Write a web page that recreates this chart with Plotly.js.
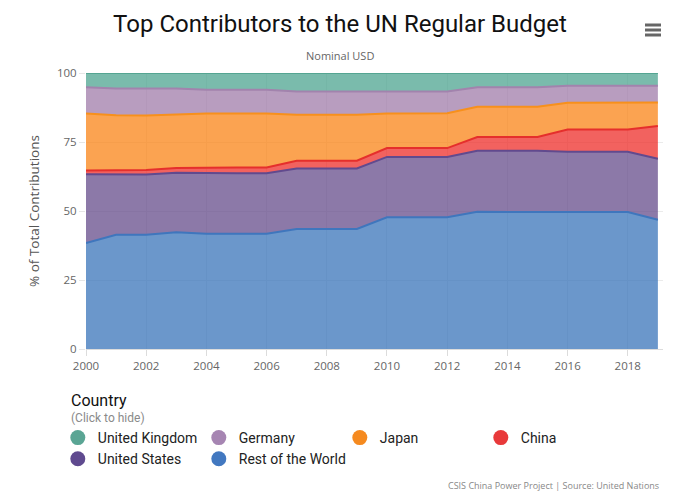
<!DOCTYPE html>
<html>
<head>
<meta charset="utf-8">
<script src="https://cdn.plot.ly/plotly-3.0.1.min.js"></script>
<style>
html,body{margin:0;padding:0;background:#fff;}
#chart{width:680px;height:495px;}
</style>
</head>
<body>
<div id="chart"></div>
<script>
const years = [2000,2001,2002,2003,2004,2005,2006,2007,2008,2009,2010,2011,2012,2013,2014,2015,2016,2017,2018,2019];
const restOfWorld = [38.4,41.4,41.4,42.3,41.8,41.8,41.8,43.5,43.5,43.5,47.7,47.7,47.7,49.7,49.7,49.7,49.5,49.5,49.6,46.8];
const unitedStates = [24.9,21.9,21.8,21.6,21.9,21.9,21.9,21.9,21.9,21.9,21.9,21.9,21.9,22.1,22.1,22.1,22.0,22.0,21.9,22.1];
const china = [1.4,1.6,1.7,1.7,2.1,2.1,2.1,2.8,2.8,2.8,3.2,3.2,3.2,5.0,5.0,5.0,8.0,8.0,8.0,11.9];
const japan = [20.6,19.8,19.7,19.4,19.5,19.5,19.5,16.7,16.7,16.7,12.5,12.5,12.6,11.0,11.0,11.0,9.7,9.7,9.7,8.5];
const germany = [9.5,9.7,9.8,9.4,8.6,8.6,8.6,8.4,8.4,8.4,8.0,8.0,7.9,7.0,7.0,7.0,6.2,6.2,6.2,6.1];
const unitedKingdom = [5.2,5.6,5.6,5.6,6.1,6.1,6.2,6.7,6.7,6.7,6.7,6.7,6.7,5.2,5.2,5.2,4.6,4.6,4.6,4.6];
const yTicks = [0,25,50,75,100];
const xTicks = [2000,2002,2004,2006,2008,2010,2012,2014,2016,2018];

const series = [
  {name:'Rest of the World', y:restOfWorld, line:'#3f76bd', fill:'rgba(57,116,185,0.75)', marker:'#4278c0'},
  {name:'United States', y:unitedStates, line:'#614a8e', fill:'rgba(101,76,139,0.75)', marker:'#5f4a8f'},
  {name:'China', y:china, line:'#e52f2c', fill:'rgba(237,45,41,0.75)', marker:'#e8393a'},
  {name:'Japan', y:japan, line:'#f7901c', fill:'rgba(249,132,23,0.75)', marker:'#f58a1f'},
  {name:'Germany', y:germany, line:'#a283ad', fill:'rgba(160,124,170,0.75)', marker:'#a685b2'},
  {name:'United Kingdom', y:unitedKingdom, line:'#55a592', fill:'rgba(77,164,144,0.75)', marker:'#5aa594'}
];

const traces = [];
series.forEach(s => {
  traces.push({
    type:'scatter', mode:'lines', x:years, y:s.y, name:s.name,
    stackgroup:'one', legendgroup:s.name, showlegend:false,
    line:{color:s.line, width:2}, fillcolor:s.fill,
    hovertemplate:'%{x}: %{y:.1f}%<extra>'+s.name+'</extra>'
  });
});
series.forEach(s => {
  traces.push({
    type:'scatter', mode:'markers', x:[null], y:[null], name:s.name,
    legendgroup:s.name, showlegend:true,
    marker:{color:s.marker, size:15, symbol:'circle'}
  });
});

// pixel -> paper helpers (plot area: x 86..663, y 73..349)
const px = v => (v-86)/577;
const py = v => (349-v)/276;

const layout = {
  width:680, height:495,
  margin:{l:86, r:17, t:73, b:146},
  paper_bgcolor:'#fff', plot_bgcolor:'#fff',
  font:{family:'Roboto, "Open Sans", sans-serif', color:'#333'},
  showlegend:true,
  legend:{
    orientation:'h', traceorder:'reversed',
    xref:'container', yref:'container', x:0.085, y:1-422/495, xanchor:'left', yanchor:'top',
    entrywidth:96, entrywidthmode:'pixels',
    font:{family:'Roboto, sans-serif', size:14, color:'#222'},
    itemclick:'toggle', tracegroupgap:0
  },
  xaxis:{
    range:[2000, 2019.17], tickvals:xTicks, ticktext:xTicks.map(String),
    showgrid:true, gridcolor:'#ebebeb', gridwidth:1,
    ticks:'outside', ticklen:6, tickcolor:'#dcdcdc',
    showline:true, linecolor:'#dcdcdc', zeroline:false,
    tickfont:{family:'"Open Sans", sans-serif', size:11.5, color:'#666'}
  },
  yaxis:{
    range:[0,100], tickvals:yTicks, ticktext:yTicks.map(String),
    showgrid:true, gridcolor:'#ebebeb', gridwidth:1,
    ticks:'outside', ticklen:6, tickcolor:'#e6e6e6',
    zeroline:false, showline:false,
    tickfont:{family:'"Open Sans", sans-serif', size:11.5, color:'#666'},
    title:{text:'% of Total Contributions', standoff:14, font:{family:'"Open Sans", sans-serif', size:13.5, color:'#555'}}
  },
  title:{text:'Top Contributors to the UN Regular Budget', x:0.5, xref:'container', y:1-24/495, yref:'container', yanchor:'middle',
    font:{family:'Roboto, sans-serif', size:24, color:'#111'}},
  annotations:[
    {text:'Nominal USD', xref:'paper', yref:'paper', x:px(340), y:py(56), xanchor:'center', yanchor:'middle', showarrow:false,
      font:{family:'"Open Sans", sans-serif', size:11, color:'#666'}},
    {text:'Country', xref:'paper', yref:'paper', x:px(69), y:py(400), xanchor:'left', yanchor:'middle', showarrow:false,
      font:{family:'Roboto, sans-serif', size:16, color:'#111'}},
    {text:'(Click to hide)', xref:'paper', yref:'paper', x:px(69), y:py(418), xanchor:'left', yanchor:'middle', showarrow:false,
      font:{family:'Roboto, sans-serif', size:12, color:'#8a8a8a'}},
    {text:'CSIS China Power Project | Source: United Nations', xref:'paper', yref:'paper', x:px(661), y:py(485), xanchor:'right', yanchor:'middle', showarrow:false,
      font:{family:'"Open Sans", sans-serif', size:9, color:'#888'}}
  ],
  shapes:[25,30,35].map(v => ({type:'line', xref:'paper', yref:'paper',
    x0:px(645), x1:px(661), y0:py(v), y1:py(v),
    line:{color:'#666', width:3}}))
};

Plotly.newPlot('chart', traces, layout, {displayModeBar:false, responsive:false});
</script>
</body>
</html>
